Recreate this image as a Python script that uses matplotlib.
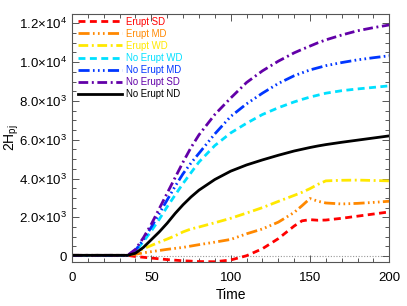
import matplotlib
matplotlib.use("Agg")
import matplotlib.pyplot as plt
from matplotlib.ticker import MultipleLocator, FuncFormatter

plt.rcParams["font.family"] = ["Liberation Sans", "DejaVu Sans"]
plt.rcParams["mathtext.fontset"] = "custom"
plt.rcParams["mathtext.rm"] = "Liberation Sans"
plt.rcParams["mathtext.it"] = "Liberation Sans"

# time grid
t = [0, 10, 20, 30, 35, 40, 45, 50, 55, 60, 65, 70, 75, 80, 90, 100, 110, 120,
     130, 140, 145, 150, 155, 160, 170, 180, 190, 200]

erupt_sd = [40, 40, 40, 40, 40, -20, -60, -100, -140, -180, -210, -240, -260,
            -280, -290, -200, 20, 380, 900, 1550, 1820, 1880, 1850, 1860, 1950,
            2060, 2170, 2280]
erupt_md = [40, 40, 40, 40, 40, 100, 170, 230, 290, 350, 400, 450, 520, 590,
            720, 860, 1150, 1400, 1750, 2250, 2600, 2970, 2830, 2740, 2690,
            2720, 2770, 2830]
erupt_wd = [40, 40, 40, 40, 40, 200, 380, 550, 720, 880, 1050, 1250, 1400, 1500,
            1720, 1950, 2220, 2500, 2820, 3130, 3290, 3480, 3700, 3880, 3910,
            3920, 3900, 3880]
noerupt_wd = [40, 40, 40, 40, 40, 250, 750, 1300, 1900, 2550, 3150, 3750, 4300,
              4850, 5700, 6350, 6850, 7300, 7650, 7950, 8080, 8200, 8300, 8400,
              8530, 8620, 8700, 8780]
noerupt_md = [40, 40, 40, 40, 40, 300, 850, 1500, 2200, 2900, 3600, 4250, 4800,
              5300, 6300, 7200, 7850, 8400, 8900, 9300, 9450, 9600, 9710, 9820,
              9980, 10120, 10230, 10330]
noerupt_sd = [40, 40, 40, 40, 40, 350, 950, 1650, 2450, 3250, 4050, 4850, 5600,
              6250, 7300, 8150, 8950, 9550, 10050, 10480, 10660, 10830, 11000,
              11150, 11400, 11620, 11780, 11920]
noerupt_nd = [40, 40, 40, 40, 40, 150, 450, 850, 1250, 1700, 2200, 2650, 3050,
              3400, 3950, 4380, 4700, 4960, 5200, 5420, 5510, 5600, 5680, 5750,
              5870, 5980, 6090, 6200]

series = [
    ("Erupt SD", erupt_sd, "#ff0000", (0, (2.5, 1.6))),
    ("Erupt MD", erupt_md, "#ff8800", (0, (4, 1.2, 0.6, 1.2, 0.6, 1.2, 0.6, 1.2))),
    ("Erupt WD", erupt_wd, "#ffe800", (0, (3.5, 1.3, 0.7, 1.3))),
    ("No Erupt WD", noerupt_wd, "#00e0ff", (0, (2.5, 1.6))),
    ("No Erupt MD", noerupt_md, "#0036ff", (0, (4, 1.2, 0.6, 1.2, 0.6, 1.2, 0.6, 1.2))),
    ("No Erupt SD", noerupt_sd, "#6200a8", (0, (3.5, 1.3, 0.7, 1.3))),
    ("No Erupt ND", noerupt_nd, "#000000", "-"),
]


def sci_fmt(v, pos):
    if v == 0:
        return "0"
    exp = 0
    m = abs(v)
    while m >= 10:
        m /= 10
        exp += 1
    m = v / 10 ** exp
    return r"%.1f$\times$10$^{%d}$" % (m, exp)


fig = plt.figure(figsize=(4.07, 3.06), dpi=100)
ax = fig.add_axes([0.177, 0.144, 0.7795, 0.81])

ax.axhline(0, color="#999999", lw=0.8, ls=(0, (1, 1.5)), zorder=1)
for name, vals, col, ls in series:
    ax.plot(t, vals, color=col, ls=ls, lw=2.0, label=name, zorder=2)

ax.set_xlim(0, 200)
ax.set_ylim(-300, 12480)
ax.xaxis.set_major_locator(MultipleLocator(50))
ax.xaxis.set_minor_locator(MultipleLocator(10))
ax.yaxis.set_major_locator(MultipleLocator(2000))
ax.yaxis.set_minor_locator(MultipleLocator(500))
ax.yaxis.set_major_formatter(FuncFormatter(sci_fmt))
ax.tick_params(which="both", direction="in", top=True, right=True,
               color="#555555", labelsize=9.5)
ax.tick_params(which="major", length=5, width=0.7)
ax.tick_params(axis="x", which="major", pad=7)
ax.tick_params(axis="y", which="major", pad=4)
ax.tick_params(which="minor", length=3, width=0.7)
for s in ax.spines.values():
    s.set_color("#555555")
    s.set_linewidth(0.8)

ax.set_xlabel("Time", fontsize=10, labelpad=3)
ax.set_ylabel(r"2H$_{\rm pj}$", fontsize=10)
ax.yaxis.set_label_coords(-0.16, 0.5)

leg = ax.legend(loc="upper left", bbox_to_anchor=(0.019, 0.99), frameon=False,
                fontsize=6.9, handlelength=4.6, handletextpad=0.42,
                labelspacing=0.22, borderpad=0, borderaxespad=0,
                labelcolor="linecolor")

fig.savefig("out.png", dpi=100)
